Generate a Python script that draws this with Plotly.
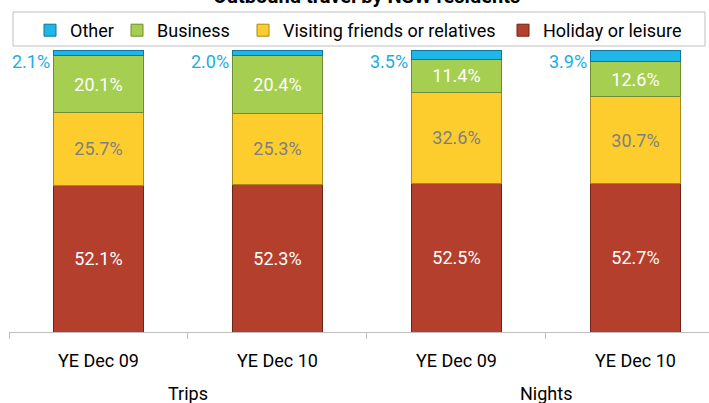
import plotly.graph_objects as go

groups = ["Trips", "Trips", "Nights", "Nights"]
periods = ["YE Dec 09", "YE Dec 10", "YE Dec 09", "YE Dec 10"]
holiday = [52.1, 52.3, 52.5, 52.7]
visiting = [25.7, 25.3, 32.6, 30.7]
business = [20.1, 20.4, 11.4, 12.6]
other = [2.1, 2.0, 3.5, 3.9]

series = [
    ("Holiday or leisure", holiday, "#B43F2C", "#6E2418", "#FFFFFF"),
    ("Visiting friends or relatives", visiting, "#FDCD2E", "#A88A1C", "#7F7F7F"),
    ("Business", business, "#A6CE50", "#6F8B33", "#FFFFFF"),
    ("Other", other, "#1FB6E9", "#12759A", None),
]
# left edge (px) of each legend entry, one legend per series
legend_left = {"Other": 30, "Business": 117, "Visiting friends or relatives": 243,
               "Holiday or leisure": 503}

FONT = "Roboto"
W, H = 709, 403
xs = list(range(len(periods)))

fig = go.Figure()
legend_layouts = {}
for k, (name, vals, col, edge, tcol) in enumerate(series):
    lg = "legend" if k == 0 else f"legend{k + 1}"
    fig.add_trace(go.Bar(
        x=xs, y=vals, name=name, width=0.5, legend=lg,
        marker=dict(color=col, line=dict(color=edge, width=1)),
        text=[f"{v:.1f}%" for v in vals] if tcol else None,
        textposition="inside" if tcol else "none",
        insidetextanchor="middle",
        textangle=0,
        textfont=dict(family=FONT, size=18, color=tcol or "#000"),
        hoverinfo="name+y",
    ))
    legend_layouts[lg] = dict(
        orientation="h", xref="container", yref="container",
        x=legend_left[name] / W, y=1 - 12 / H, xanchor="left", yanchor="top",
        bgcolor="rgba(0,0,0,0)", borderwidth=0,
        font=dict(family=FONT, size=18, color="#000000"),
        itemwidth=30,
    )

annotations = []
# Other labels to the left of the top of each bar
for i in xs:
    total = holiday[i] + visiting[i] + business[i] + other[i]
    annotations.append(dict(
        x=i, y=total, xref="x", yref="y", text=f"{other[i]:.1f}%",
        showarrow=False, xanchor="right", yanchor="top", xshift=-46, yshift=1,
        font=dict(family=FONT, size=18, color="#1AADE4"),
    ))

# group labels
for g in ["Trips", "Nights"]:
    idx = [i for i, gg in enumerate(groups) if gg == g]
    annotations.append(dict(
        x=sum(idx) / len(idx), y=0, xref="x", yref="paper", text=g,
        showarrow=False, xanchor="center", yanchor="top", yshift=-49,
        font=dict(family=FONT, size=18, color="#000000"),
    ))

# title (partially cut off at top, as in the reference)
annotations.append(dict(
    x=0.51, y=1, xref="paper", yref="paper", text="<b>Outbound travel by NSW residents</b>",
    showarrow=False, xanchor="center", yanchor="bottom", yshift=40,
    font=dict(family=FONT, size=20, color="#000000"),
))

# legend frame
shapes = [dict(type="rect", xref="paper", yref="paper",
               x0=(13 - 9) / 700, x1=(705 - 9) / 700,
               y0=(332 - 46) / 282, y1=(332 - 12) / 282,
               line=dict(color="#BFBFBF", width=1), fillcolor="white", layer="below")]

fig.update_layout(
    width=W, height=H,
    margin=dict(l=9, r=0, t=50, b=71, autoexpand=False),
    barmode="stack",
    plot_bgcolor="white", paper_bgcolor="white",
    showlegend=True,
    annotations=annotations,
    shapes=shapes,
    xaxis=dict(
        range=[-0.5, 3.411],
        tickmode="array", tickvals=xs, ticktext=periods,
        ticks="", ticklabelstandoff=12,
        showline=True, linecolor="#BFBFBF", linewidth=1,
        showgrid=False, zeroline=False,
        tickfont=dict(family=FONT, size=18, color="#000000"),
        minor=dict(tickmode="array", tickvals=[-0.5, 0.5, 1.5, 2.5], ticks="outside",
                   ticklen=6, tickcolor="#BFBFBF", tickwidth=1, showgrid=False),
        fixedrange=True, automargin=False,
    ),
    yaxis=dict(range=[0, 100], visible=False, fixedrange=True),
    **legend_layouts,
)

# remove the browser's default 8px page margin so the figure fills the window
fig.write_html("out.html", config={"displayModeBar": False},
               post_script="document.body.style.margin='0px';")
